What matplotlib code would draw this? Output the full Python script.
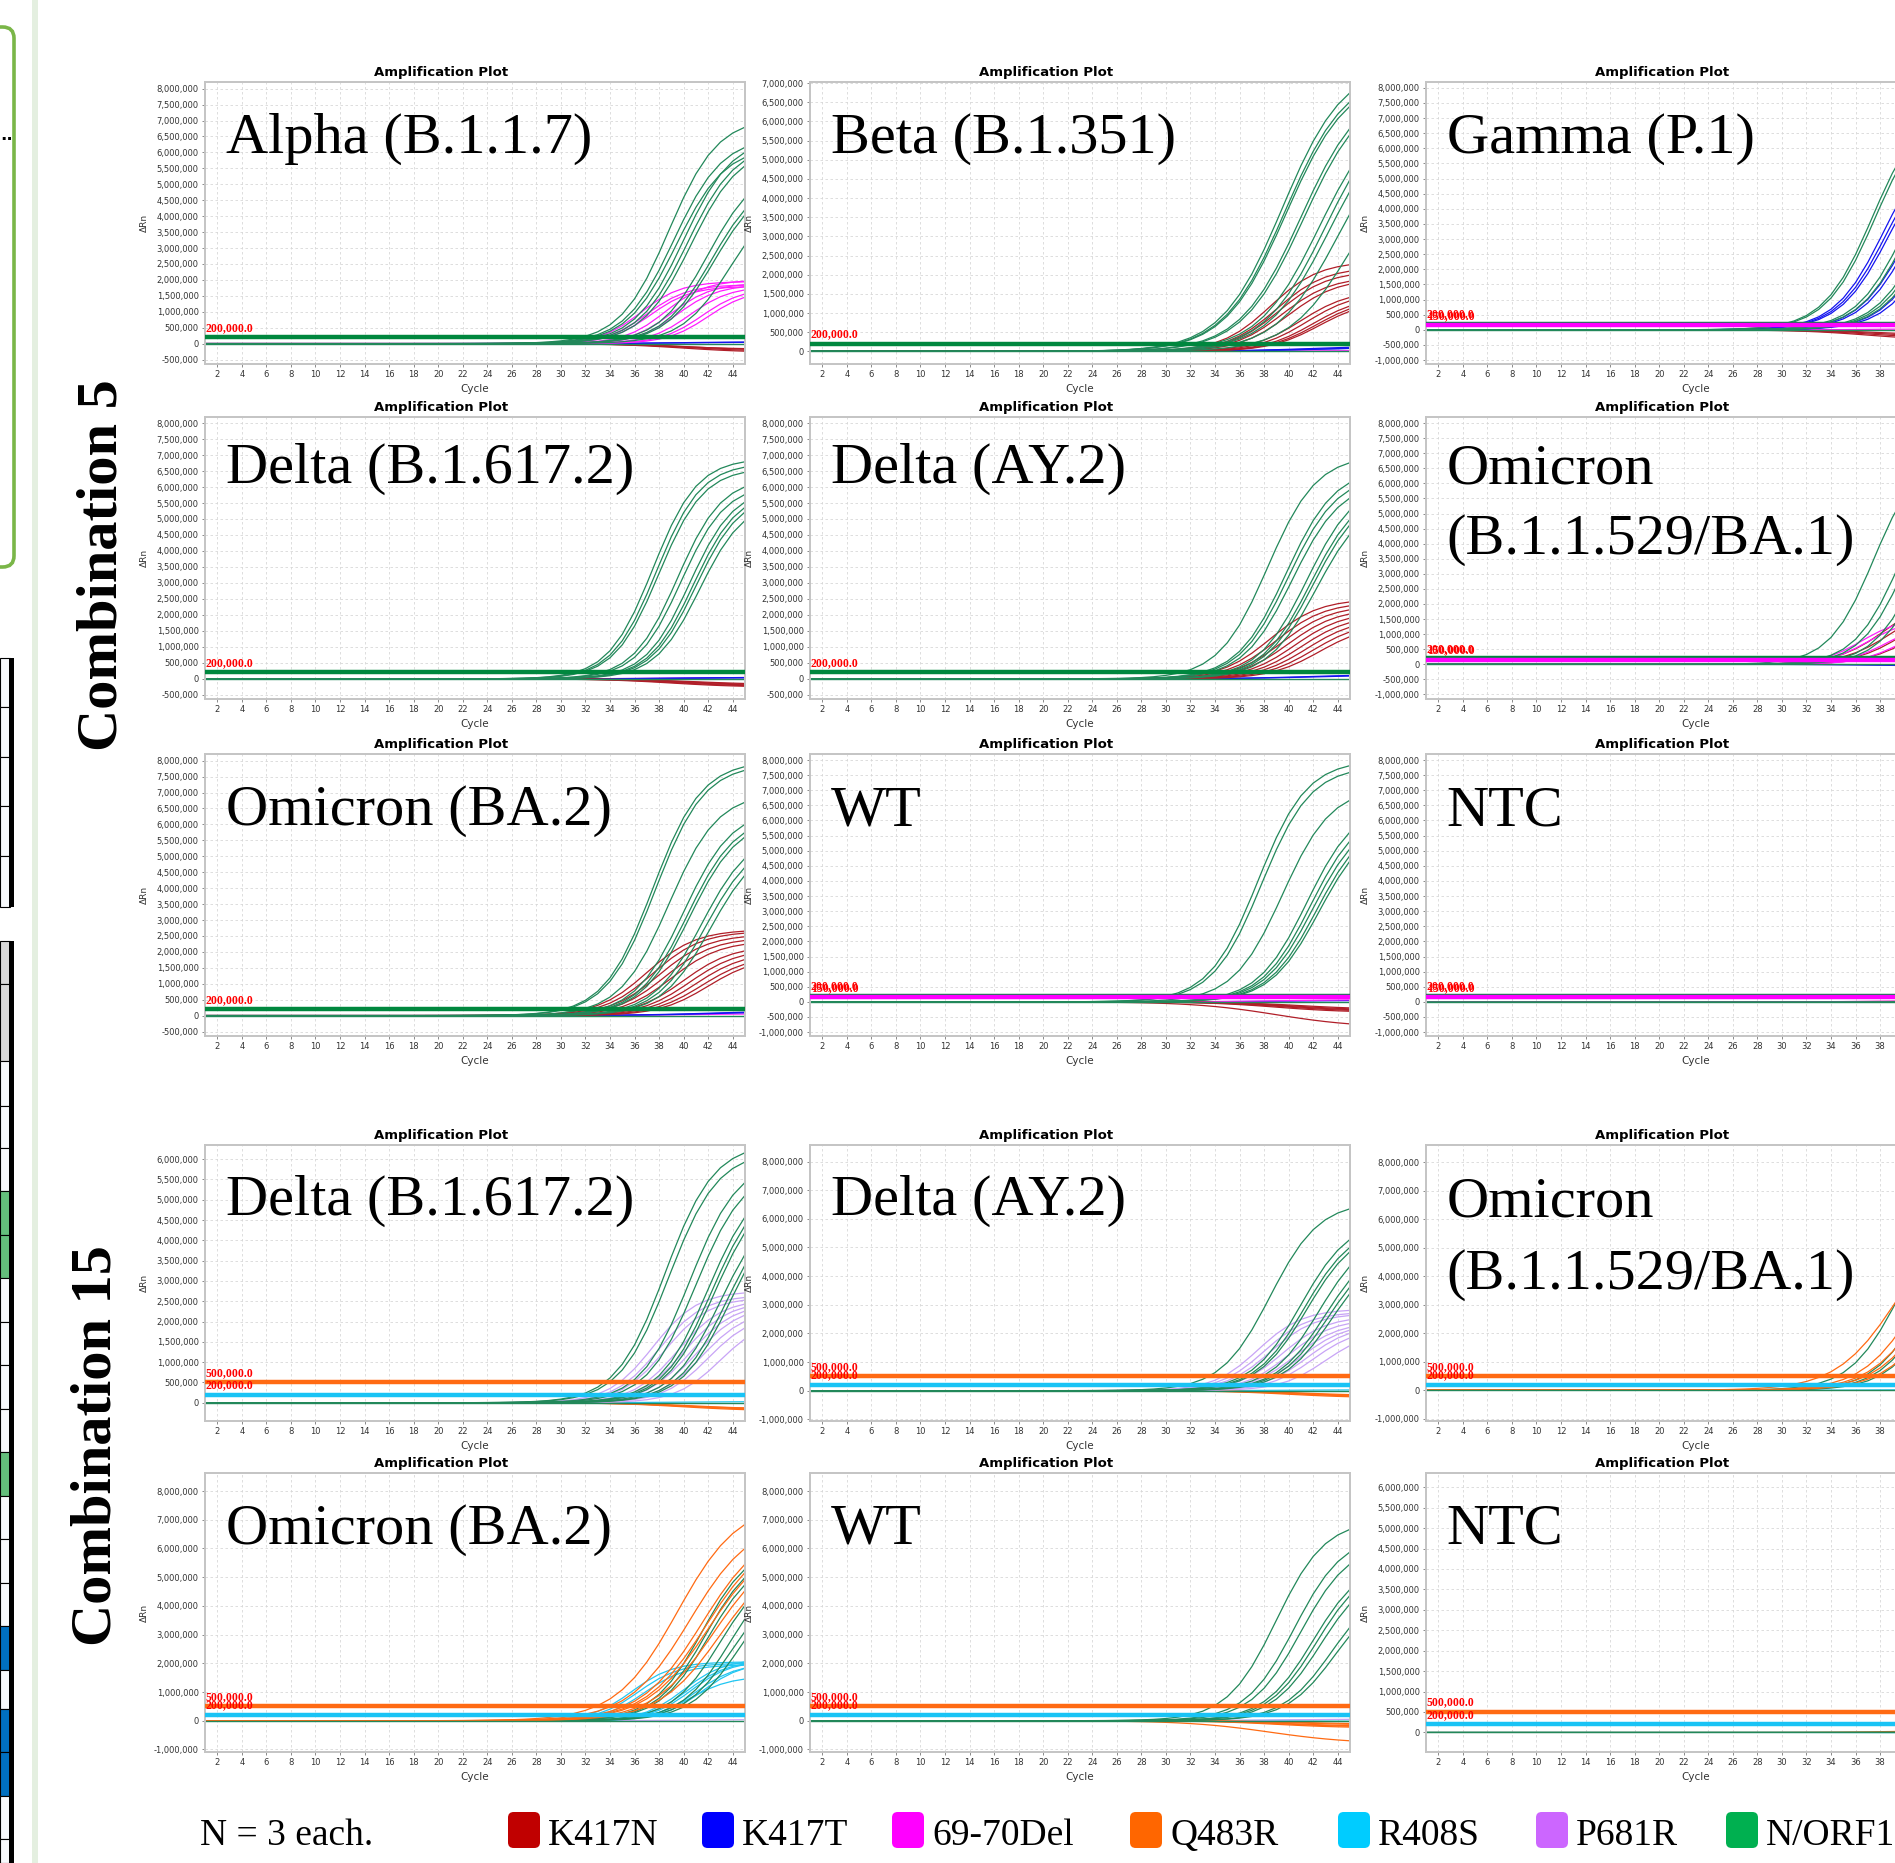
import numpy as np
import matplotlib
matplotlib.use('Agg')
import matplotlib.pyplot as plt
from matplotlib.patches import Rectangle, FancyBboxPatch
from matplotlib.ticker import FuncFormatter

W, H = 1895, 1863

# qPCR cycles on the x axis
cycles = np.arange(1, 46)

# every curve: (cycle at half height, plateau dRn, steepness)
# ---- combination 5 ----
alpha = {
    'K417N': [(40.0, -2.8e5, .35), (40.5, -2.5e5, .35), (41.0, -2.2e5, .35), (39.5, -1.8e5, .35)],
    'K417T': [(40.0, 6e4, .3), (41.0, 5e4, .3)],
    '69-70Del': [(36.5, 1.95e6, .6), (37.0, 1.85e6, .6), (37.3, 1.8e6, .6), (38.5, 2.0e6, .6), (39.0, 1.9e6, .6),
                 (39.5, 1.85e6, .6), (40.5, 1.8e6, .6), (41.5, 1.75e6, .6), (42.0, 1.7e6, .6)],
    'N/ORF1': [(38.8, 7.1e6, .5), (39.2, 6.5e6, .5), (39.4, 6.2e6, .5), (40.0, 6.5e6, .5), (40.3, 6.3e6, .5),
               (40.6, 6.2e6, .5), (42.0, 5.6e6, .5), (42.3, 5.3e6, .5), (42.5, 5.2e6, .5), (43.8, 4.8e6, .5)],
}
beta = {
    '69-70Del': [(40.0, 2e4, .3)],
    'K417T': [(42.0, 1.5e5, .3), (43.0, 1.2e5, .3), (41.0, 1.0e5, .3)],
    'K417N': [(38.5, 2.35e6, .5), (39.0, 2.2e6, .5), (39.2, 2.1e6, .5), (39.5, 1.95e6, .5), (40.0, 1.9e6, .5),
              (41.0, 1.6e6, .5), (41.5, 1.55e6, .5), (42.0, 1.45e6, .5), (42.3, 1.4e6, .5), (42.5, 1.35e6, .5)],
    'N/ORF1': [(39.5, 7.5e6, .4), (39.7, 7.3e6, .4), (39.8, 7.2e6, .4), (41.0, 7.0e6, .4), (41.2, 6.9e6, .4),
               (42.5, 6.5e6, .4), (43.0, 6.5e6, .4), (43.3, 6.3e6, .4), (44.0, 6.0e6, .4), (45.0, 5.2e6, .4)],
}
gamma = {
    'K417N': [(37.0, -3.5e5, .35), (37.5, -3.0e5, .35), (38.0, -2.5e5, .35), (38.5, -2.0e5, .35)],
    '69-70Del': [(40.0, 5e4, .3)],
    'K417T': [(38.3, 6.5e6, .5), (38.5, 6.3e6, .5), (38.7, 6.2e6, .5), (40.2, 6.0e6, .5), (40.5, 6.0e6, .5),
              (42.2, 6.0e6, .5), (42.5, 5.8e6, .5)],
    'N/ORF1': [(37.4, 7.5e6, .5), (37.6, 7.4e6, .5), (40.0, 6.5e6, .5), (40.3, 6.4e6, .5), (41.5, 6.0e6, .5),
               (41.8, 6.0e6, .5), (42.0, 5.8e6, .5)],
}
delta5 = {
    '69-70Del': [(40.0, 5e4, .3)],
    'K417T': [(40.0, 5e4, .3), (41.0, 4e4, .3)],
    'K417N': [(39.0, -2.6e5, .35), (39.5, -2.4e5, .35), (40.0, -2.2e5, .35), (40.5, -2.0e5, .35), (41.0, -1.8e5, .35)],
    'N/ORF1': [(37.5, 6.9e6, .55), (37.8, 6.75e6, .55), (38.0, 6.6e6, .55), (39.5, 6.3e6, .55), (39.8, 6.1e6, .55),
               (40.5, 6.0e6, .55), (40.8, 5.9e6, .55), (41.0, 5.8e6, .55), (41.3, 5.6e6, .55)],
}
ay2_5 = {
    'K417T': [(42.0, 1.5e5, .3), (42.5, 1.3e5, .3)],
    'K417N': [(38.5, 2.5e6, .5), (39.0, 2.4e6, .5), (39.5, 2.3e6, .5), (40.0, 2.2e6, .5), (40.5, 2.1e6, .5),
              (41.0, 2.0e6, .5), (41.5, 1.9e6, .5), (42.0, 1.8e6, .5), (42.5, 1.7e6, .5)],
    'N/ORF1': [(38.3, 7.0e6, .5), (39.8, 6.6e6, .5), (40.0, 6.4e6, .5), (40.3, 6.2e6, .5), (41.5, 6.2e6, .5),
               (41.8, 6.0e6, .5), (42.0, 5.9e6, .5), (42.3, 5.7e6, .5)],
}
ba1_5 = {
    'K417T': [(38.0, -6e4, .35), (39.0, -4e4, .35)],
    'K417N': [(38.5, 2.3e6, .5), (39.0, 2.1e6, .5), (40.0, 2.0e6, .5), (41.0, 1.9e6, .5)],
    '69-70Del': [(36.5, 1.55e6, .6), (37.0, 1.5e6, .6), (38.5, 1.4e6, .6), (39.5, 1.3e6, .6)],
    'N/ORF1': [(37.5, 7.0e6, .55), (39.5, 6.5e6, .55), (40.0, 6.3e6, .55), (41.0, 6.0e6, .55), (41.5, 6.0e6, .55)],
}
ba2_5 = {
    '69-70Del': [(40.0, 6e4, .3)],
    'K417T': [(42.0, 1.5e5, .3), (42.5, 1.3e5, .3)],
    'K417N': [(37.0, 2.7e6, .5), (37.5, 2.65e6, .5), (38.0, 2.55e6, .5), (38.5, 2.45e6, .5), (39.0, 2.35e6, .5),
              (40.0, 2.2e6, .5), (40.5, 2.1e6, .5), (41.0, 2.0e6, .5), (41.5, 1.9e6, .5), (42.0, 1.85e6, .5)],
    'N/ORF1': [(37.5, 8.0e6, .5), (37.7, 7.9e6, .5), (38.8, 7.0e6, .5), (40.0, 6.5e6, .5), (40.3, 6.3e6, .5),
               (40.5, 6.2e6, .5), (41.5, 5.8e6, .5), (41.8, 5.6e6, .5), (42.2, 5.5e6, .5)],
}
wt5 = {
    'K417T': [(40.0, 5e4, .3)],
    '69-70Del': [(40.0, 8e4, .3)],
    'K417N': [(39.0, -3.5e5, .35), (39.5, -3.2e5, .35), (40.0, -3.0e5, .35), (40.5, -2.8e5, .35),
              (41.0, -2.5e5, .35), (39.0, -8.5e5, .3)],
    'N/ORF1': [(37.5, 8.0e6, .5), (37.8, 7.8e6, .5), (39.5, 7.1e6, .5), (41.5, 6.6e6, .5), (41.8, 6.4e6, .5),
               (42.0, 6.2e6, .5), (42.3, 6.1e6, .5), (42.5, 6.0e6, .5)],
}
ntc5 = {
    'K417N': [(40.0, 4e4, .3)],
    '69-70Del': [(40.0, 5e4, .3)],
    'N/ORF1': [(40.0, 1e4, .3)],
}

# ---- combination 15 ----
delta15 = {
    'R408S': [(40.0, 3e4, .3)],
    'Q483R': [(40.0, -2.0e5, .35), (40.5, -1.8e5, .35), (41.0, -1.6e5, .35), (39.5, -1.5e5, .35)],
    'P681R': [(37.5, 2.75e6, .55), (38.0, 2.65e6, .55), (38.5, 2.6e6, .55), (39.5, 2.55e6, .55), (40.0, 2.5e6, .55),
              (40.5, 2.45e6, .55), (41.0, 2.4e6, .55), (41.5, 2.3e6, .55), (42.0, 2.2e6, .55), (43.0, 2.1e6, .55)],
    'N/ORF1': [(38.5, 6.4e6, .5), (38.8, 6.2e6, .5), (40.5, 6.0e6, .5), (41.0, 5.8e6, .5), (42.0, 5.6e6, .5),
               (42.3, 5.5e6, .5), (42.5, 5.4e6, .5), (43.0, 5.0e6, .5), (43.5, 5.0e6, .5), (43.8, 5.0e6, .5)],
}
ay2_15 = {
    'R408S': [(40.0, 3e4, .3)],
    'Q483R': [(40.0, -2.5e5, .35), (40.5, -2.2e5, .35), (41.0, -2.0e5, .35), (41.5, -1.8e5, .35)],
    'P681R': [(37.5, 2.85e6, .55), (38.0, 2.75e6, .55), (38.5, 2.7e6, .55), (39.5, 2.6e6, .55), (40.0, 2.5e6, .55),
              (40.5, 2.4e6, .55), (41.0, 2.35e6, .55), (41.5, 2.3e6, .55), (42.0, 2.2e6, .55), (43.0, 2.1e6, .55)],
    'N/ORF1': [(38.5, 6.6e6, .5), (41.0, 6.0e6, .5), (41.3, 5.8e6, .5), (41.5, 5.7e6, .5), (42.5, 5.6e6, .5),
               (43.0, 5.3e6, .5), (43.2, 5.1e6, .5), (43.5, 5.0e6, .5)],
}
ba1_15 = {
    'R408S': [(40.0, 3e4, .3)],
    'N/ORF1': [(39.5, 6.5e6, .5), (41.5, 6.0e6, .5), (42.0, 5.8e6, .5), (42.5, 5.5e6, .5)],
    'Q483R': [(39.5, 6.5e6, .4), (41.0, 6.0e6, .45), (41.5, 5.5e6, .45), (42.0, 5.5e6, .45), (42.5, 5.0e6, .45)],
}
ba2_15 = {
    'P681R': [(42.0, 5e4, .3)],
    'R408S': [(35.8, 2.05e6, .6), (36.3, 2.0e6, .6), (36.8, 1.95e6, .6), (40.0, 2.15e6, .6), (40.3, 2.1e6, .6),
              (40.6, 2.1e6, .6), (41.0, 2.0e6, .6), (41.5, 2.05e6, .6), (40.5, 1.55e6, .6)],
    'N/ORF1': [(41.5, 6.2e6, .5), (41.8, 6.0e6, .5), (42.0, 5.8e6, .5), (43.0, 5.5e6, .5), (43.8, 5.5e6, .5),
               (44.0, 5.0e6, .5), (44.5, 5.0e6, .5)],
    'Q483R': [(39.5, 7.6e6, .4), (40.5, 7.0e6, .4), (41.5, 6.8e6, .4), (41.8, 6.6e6, .4), (42.0, 6.4e6, .4),
              (42.5, 6.2e6, .4), (43.0, 6.0e6, .4)],
}
wt15 = {
    'R408S': [(40.0, 4e4, .3)],
    'P681R': [(40.0, 6e4, .3)],
    'Q483R': [(39.0, -2.5e5, .35), (39.5, -2.2e5, .35), (40.0, -2.0e5, .35), (40.5, -1.5e5, .35),
              (41.0, -1.2e5, .35), (38.5, -8.0e5, .3)],
    'N/ORF1': [(39.0, 7.0e6, .5), (40.5, 6.5e6, .5), (41.0, 6.2e6, .5), (42.0, 5.6e6, .5), (42.3, 5.5e6, .5),
               (42.6, 5.3e6, .5), (43.5, 4.8e6, .5), (43.8, 4.6e6, .5)],
}
ntc15 = {
    'Q483R': [(40.0, 5e4, .3)],
    'R408S': [(40.0, -1e4, .3)],
    'N/ORF1': [(40.0, 1e4, .3)],
}

# thresholds (dRn) of each combination
thr_c5 = [('N/ORF1', 200000.0), ('69-70Del', 150000.0)]
thr_c15 = [('Q483R', 500000.0), ('R408S', 200000.0)]

legend_names = ['K417N', 'K417T', '69-70Del', 'Q483R', 'R408S', 'P681R', 'N/ORF1']
legend_colors = ['#C00000', '#0000FF', '#FF00FF', '#FF6600', '#00CCFF', '#CC66FF', '#00B050']

curve_color = {'K417N': '#B01E28', 'K417T': '#1414F0', '69-70Del': '#FF1CFF', 'Q483R': '#FF6A12',
               'R408S': '#20C6F2', 'P681R': '#C8A4F6', 'N/ORF1': '#22885A'}
thr_color = {'N/ORF1': '#00873E', '69-70Del': '#FF00FF', 'Q483R': '#FF6A13', 'R408S': '#19C3F5'}

# layout in pixels of the full picture
col_left = [205, 810, 1426]
ax_w = 540
row_span = [(82, 364), (417, 699), (754, 1036), (1145, 1421), (1473, 1752)]

# (data, label lines, row, col, ylim, tick step, tick lo, tick hi, thresholds)
panels = [
    (alpha, ['Alpha (B.1.1.7)'], 0, 0, (-6.4e5, 8.21e6), 5e5, -5e5, 8e6, thr_c5[:1]),
    (beta, ['Beta (B.1.351)'], 0, 1, (-3.3e5, 7.03e6), 5e5, 0, 7e6, thr_c5[:1]),
    (gamma, ['Gamma (P.1)'], 0, 2, (-1.13e6, 8.19e6), 5e5, -1e6, 8e6, thr_c5),
    (delta5, ['Delta (B.1.617.2)'], 1, 0, (-6.3e5, 8.19e6), 5e5, -5e5, 8e6, thr_c5[:1]),
    (ay2_5, ['Delta (AY.2)'], 1, 1, (-6.3e5, 8.19e6), 5e5, -5e5, 8e6, thr_c5[:1]),
    (ba1_5, ['Omicron', '(B.1.1.529/BA.1)'], 1, 2, (-1.15e6, 8.2e6), 5e5, -1e6, 8e6, thr_c5),
    (ba2_5, ['Omicron (BA.2)'], 2, 0, (-6.4e5, 8.21e6), 5e5, -5e5, 8e6, thr_c5[:1]),
    (wt5, ['WT'], 2, 1, (-1.13e6, 8.2e6), 5e5, -1e6, 8e6, thr_c5),
    (ntc5, ['NTC'], 2, 2, (-1.13e6, 8.2e6), 5e5, -1e6, 8e6, thr_c5),
    (delta15, ['Delta (B.1.617.2)'], 3, 0, (-4.5e5, 6.35e6), 5e5, 0, 6e6, thr_c15),
    (ay2_15, ['Delta (AY.2)'], 3, 1, (-1.06e6, 8.58e6), 1e6, -1e6, 8e6, thr_c15),
    (ba1_15, ['Omicron', '(B.1.1.529/BA.1)'], 3, 2, (-1.08e6, 8.61e6), 1e6, -1e6, 8e6, thr_c15),
    (ba2_15, ['Omicron (BA.2)'], 4, 0, (-1.09e6, 8.63e6), 1e6, -1e6, 8e6, thr_c15),
    (wt15, ['WT'], 4, 1, (-1.09e6, 8.63e6), 1e6, -1e6, 8e6, thr_c15),
    (ntc15, ['NTC'], 4, 2, (-4.8e5, 6.35e6), 5e5, 0, 6e6, thr_c15),
]


def amp_curve(mid, top, k):
    return top / (1.0 + np.exp(-k * (cycles - mid)))


def fig_box(x, y, w, h):
    # pixel box (top-left origin) -> figure fraction
    return [x / W, 1 - (y + h) / H, w / W, h / H]


def fig_rect(x, y, w, h, **kw):
    b = fig_box(x, y, w, h)
    fig.patches.append(Rectangle((b[0], b[1]), b[2], b[3], transform=fig.transFigure, **kw))


fig = plt.figure(figsize=(W / 100, H / 100), dpi=100)
fig.patch.set_facecolor('white')

comma = FuncFormatter(lambda v, p: f'{v:,.0f}')

for data, label, row, col, ylim, step, lo, hi, thr in panels:
    top, bot = row_span[row]
    ax = fig.add_axes(fig_box(col_left[col], top, ax_w, bot - top))
    for target, curves in data.items():
        for mid, plateau, k in curves:
            ax.plot(cycles, amp_curve(mid, plateau, k), color=curve_color[target], lw=0.9, zorder=2)
    ax.axhline(0, color=curve_color['N/ORF1'], lw=1.0, zorder=2.5)
    for target, val in thr:
        ax.axhline(val, color=thr_color[target], lw=3.2, zorder=3)
        ax.text(1.05, val + 0.012 * (ylim[1] - ylim[0]), f'{val:,.1f}', color='red', fontsize=8.5,
                family='Liberation Serif', weight='bold', va='bottom', ha='left', zorder=4)
    ax.set_xlim(1, 45)
    ax.set_ylim(*ylim)
    # the right column runs off the picture; keep the tick labels that stay inside it
    ax.set_xticks(np.arange(2, 39 if col == 2 else 45, 2))
    ax.set_yticks(np.arange(lo, hi + 1, step))
    ax.yaxis.set_major_formatter(comma)
    ax.grid(True, color='#D8D8D8', linestyle=(0, (3, 3)), lw=0.6, zorder=0)
    if col == 2:
        for c in range(40, 45, 2):
            ax.axvline(c, color='#D8D8D8', linestyle=(0, (3, 3)), lw=0.6, zorder=0)
    ax.tick_params(labelsize=6, length=2.5, width=0.6, color='#777777', labelcolor='#333333', pad=2)
    for s in ax.spines.values():
        s.set_color('#C4C4C4')
        s.set_linewidth(1.4)
    ax.set_xlabel('Cycle', fontsize=7.5, color='#333333')
    ax.xaxis.set_label_coords(0.5, -0.072)
    ax.set_ylabel('ΔRn', fontsize=6.5, color='#333333')
    ax.yaxis.set_label_coords(-0.104, 0.5)
    ax.text(0.437, 1.012, 'Amplification Plot', transform=ax.transAxes, ha='center', va='bottom',
            fontsize=9.5, weight='bold')
    if len(label) == 1:
        base = 0.765 if row == 1 else 0.748
        ax.text(0.038, base, label[0], transform=ax.transAxes, family='Liberation Serif', fontsize=42,
                va='baseline', zorder=5)
    else:
        y1, y2 = (0.765, 0.515) if row == 1 else (0.742, 0.48)
        ax.text(0.038, y1, label[0], transform=ax.transAxes, family='Liberation Serif', fontsize=42,
                va='baseline', zorder=5)
        ax.text(0.038, y2, label[1], transform=ax.transAxes, family='Liberation Serif', fontsize=42,
                va='baseline', zorder=5)

# combination titles
fig.text(103 / W, 1 - 565 / H, 'Combination 5', rotation=90, family='Liberation Serif', weight='bold',
         fontsize=42, ha='center', va='center')
fig.text(97 / W, 1 - 1446 / H, 'Combination 15', rotation=90, family='Liberation Serif', weight='bold',
         fontsize=42, ha='center', va='center')

# legend along the bottom
fig.text(200 / W, 1 - 1845 / H, 'N = 3 each.', family='Liberation Serif', fontsize=27, va='baseline')
swatch_x = [508, 702, 892, 1130, 1338, 1536, 1726]
for name, c, x in zip(legend_names, legend_colors, swatch_x):
    b = fig_box(x, 1812, 32, 36)
    fig.patches.append(FancyBboxPatch((b[0], b[1]), b[2], b[3], boxstyle='round,pad=0,rounding_size=0.003',
                                      transform=fig.transFigure, fc=c, ec='none'))
    fig.text((x + 40) / W, 1 - 1845 / H, name, family='Liberation Serif', fontsize=27, va='baseline')

# pieces of the neighbouring figure at the left edge
fig_rect(32, 0, 6, H, fc='#E4EFE0', ec='none')
b = fig_box(-40, 27, 54, 540)
fig.patches.append(FancyBboxPatch((b[0], b[1]), b[2], b[3], boxstyle='round,pad=0,rounding_size=0.006',
                                  transform=fig.transFigure, fc='none', ec='#7AB648', lw=2.6))
fig.text(0, 1 - 140 / H, '..', fontsize=12, weight='bold')

table1 = [658, 707, 757, 806, 856, 907]
table2 = [941, 984, 1061, 1106, 1148, 1191, 1235, 1278, 1322, 1365, 1409, 1452, 1496, 1539, 1583,
          1626, 1670, 1709, 1752, 1796, 1839, 1863]
cell_fill = {941: '#D9D9D9', 984: '#D9D9D9', 1191: '#63BE7B', 1235: '#63BE7B', 1452: '#63BE7B',
             1626: '#0070C0', 1709: '#0070C0', 1752: '#0070C0'}
for edges in (table1, table2):
    for y0, y1 in zip(edges[:-1], edges[1:]):
        fig_rect(0, y0, 10, y1 - y0, fc=cell_fill.get(y0, '#F7F9FC'), ec='black', lw=0.8)
    fig_rect(9, edges[0], 5, edges[-1] - edges[0], fc='black', ec='none')

fig.savefig('out.png', dpi=100, facecolor='white')
